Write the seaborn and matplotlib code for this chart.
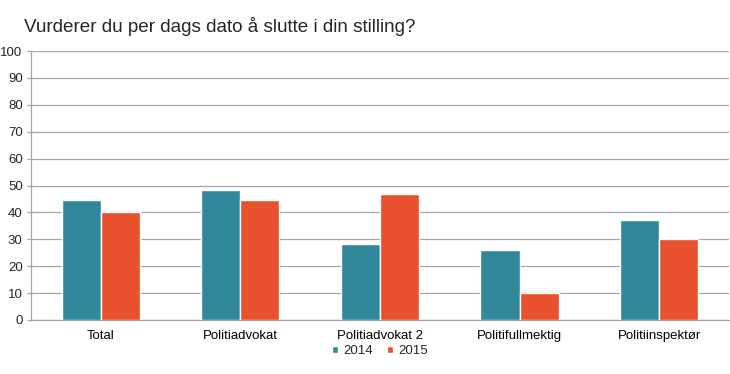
import pandas as pd
import matplotlib.pyplot as plt
import seaborn as sns
from matplotlib.ticker import FixedLocator

categories = ['Total', 'Politiadvokat', 'Politiadvokat 2', 'Politifullmektig', 'Politiinspektør']
years = ['2014', '2015']
values_2014 = [44.7, 48.2, 28.2, 25.9, 37.0]
values_2015 = [40.0, 44.7, 47.0, 10.0, 30.0]
yticks = list(range(0, 101, 10))

df = pd.DataFrame({
    'kategori': categories * 2,
    'år': [years[0]] * len(categories) + [years[1]] * len(categories),
    'verdi': values_2014 + values_2015,
})

sns.set_style('white')
plt.rcParams['font.family'] = ['Liberation Sans', 'DejaVu Sans']

fig = plt.figure(figsize=(7.3, 3.74), dpi=100)
ax = fig.add_axes([0.0425, 0.1444, 0.956, 0.719])

palette = {'2014': '#31889B', '2015': '#E8502E'}
sns.barplot(data=df, x='kategori', y='verdi', hue='år', palette=palette,
            width=0.56, saturation=1, ax=ax, zorder=3)

ax.set_ylim(0, 100)
ax.set_yticks(yticks)
ax.set_xlim(-0.5, len(categories) - 0.5)
ax.yaxis.grid(True, color='#A6A6A6', linewidth=0.9, zorder=0)
ax.set_axisbelow(True)

for s in ['top', 'right']:
    ax.spines[s].set_visible(False)
for s in ['left', 'bottom']:
    ax.spines[s].set_color('#A6A6A6')
    ax.spines[s].set_linewidth(0.9)

# tick marks between groups, none on labels
ax.tick_params(axis='x', which='major', length=0, labelsize=9.5, pad=7, colors='black')
ax.xaxis.set_minor_locator(FixedLocator([i - 0.5 for i in range(len(categories) + 1)]))
ax.tick_params(axis='x', which='minor', length=4, color='#A6A6A6', width=0.9)
ax.tick_params(axis='y', length=3, color='#A6A6A6', width=0.9, labelsize=9.5, pad=3, left=True)
ax.set_xlabel('')
ax.set_ylabel('')

ax.legend(title=None, loc='upper center', bbox_to_anchor=(0.5, -0.05), ncol=2,
          frameon=False, fontsize=9.5, handlelength=0.5, handleheight=0.5,
          handletextpad=0.4, columnspacing=1.0)

fig.text(0.033, 0.914, 'Vurderer du per dags dato å slutte i din stilling?', fontsize=13.6)

fig.savefig('out.png', dpi=100)
